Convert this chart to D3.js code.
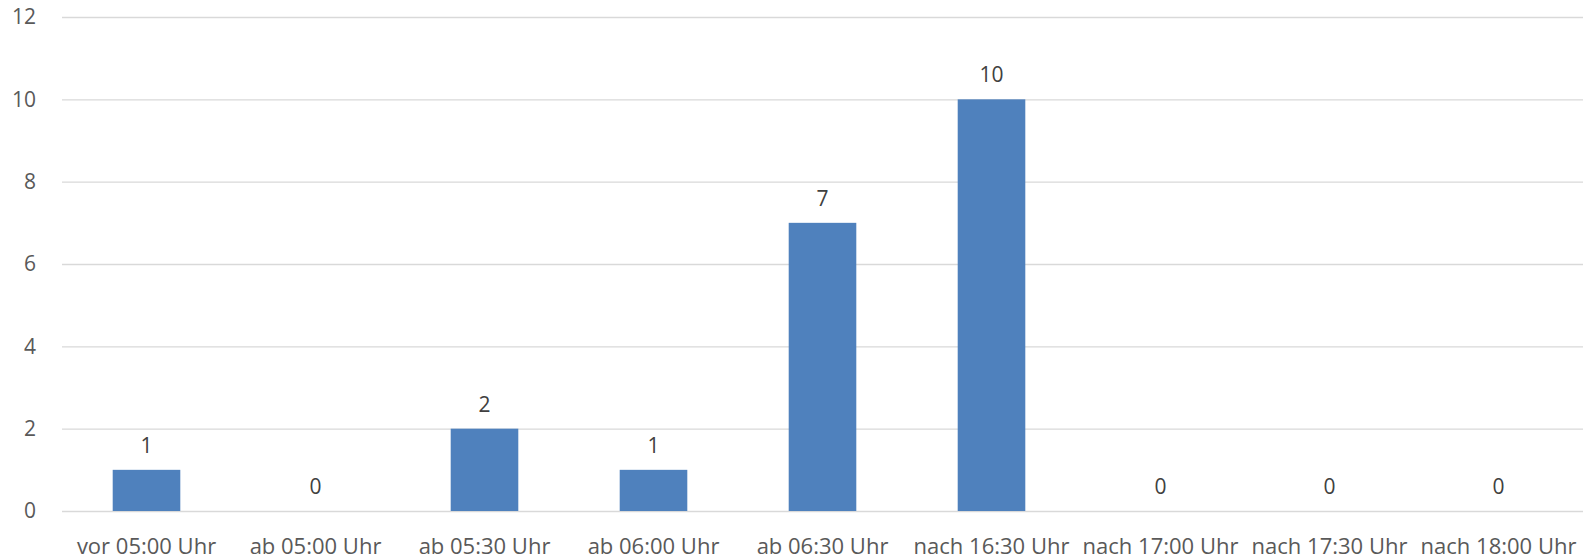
<!DOCTYPE html>
<html>
<head>
<meta charset="utf-8">
<script src="https://cdn.jsdelivr.net/npm/d3@7"></script>
<style>
  html, body { margin: 0; padding: 0; background: #fff; }
  svg { display: block; }
</style>
</head>
<body>
<svg id="chart" width="1591" height="559"></svg>
<script>
// Zeitfenster und Anzahl je Zeitfenster
const categories = [
  "vor 05:00 Uhr", "ab 05:00 Uhr", "ab 05:30 Uhr", "ab 06:00 Uhr", "ab 06:30 Uhr",
  "nach 16:30 Uhr", "nach 17:00 Uhr", "nach 17:30 Uhr", "nach 18:00 Uhr"
];
const values = [1, 0, 2, 1, 7, 10, 0, 0, 0];
const yTicks = [0, 2, 4, 6, 8, 10, 12];

const width = 1591, height = 559;
const margin = { top: 17, right: 8, bottom: 48, left: 62 };

const svg = d3.select("#chart");
const font = "'Open Sans', 'Noto Sans', sans-serif";

const x = d3.scaleBand()
  .domain(categories)
  .range([margin.left, width - margin.right])
  .paddingInner(0.6)
  .paddingOuter(0.3);

const y = d3.scaleLinear()
  .domain([0, 12])
  .range([height - margin.bottom, margin.top]);

// Gitterlinien
svg.append("g")
  .selectAll("line")
  .data(yTicks)
  .join("line")
  .attr("x1", margin.left)
  .attr("x2", width - margin.right)
  .attr("y1", d => y(d) + 0.5)
  .attr("y2", d => y(d) + 0.5)
  .attr("stroke", "#d9d9d9")
  .attr("stroke-width", 1.3);

// Y-Achse
const yAxis = svg.append("g")
  .attr("transform", `translate(${margin.left},0)`)
  .call(d3.axisLeft(y).tickValues(yTicks).tickSize(0).tickPadding(26));
yAxis.select(".domain").remove();
yAxis.selectAll("text")
  .attr("font-family", font)
  .attr("font-size", 21)
  .attr("fill", "#595959");

// X-Achse
const xAxis = svg.append("g")
  .attr("transform", `translate(0,${y(0)})`)
  .call(d3.axisBottom(x).tickSize(0).tickPadding(27));
xAxis.select(".domain").remove();
xAxis.selectAll("text")
  .attr("font-family", font)
  .attr("font-size", 22)
  .attr("fill", "#595959");

// Balken
svg.append("g")
  .selectAll("rect")
  .data(values)
  .join("rect")
  .attr("x", (d, i) => x(categories[i]))
  .attr("width", x.bandwidth())
  .attr("y", d => y(d))
  .attr("height", d => y(0) - y(d))
  .attr("fill", "#4f81bd");

// Datenbeschriftungen
svg.append("g")
  .selectAll("text")
  .data(values)
  .join("text")
  .attr("x", (d, i) => x(categories[i]) + x.bandwidth() / 2)
  .attr("y", d => y(d) - 17)
  .attr("text-anchor", "middle")
  .attr("font-family", font)
  .attr("font-size", 21)
  .attr("fill", "#404040")
  .text(d => d);
</script>
</body>
</html>
